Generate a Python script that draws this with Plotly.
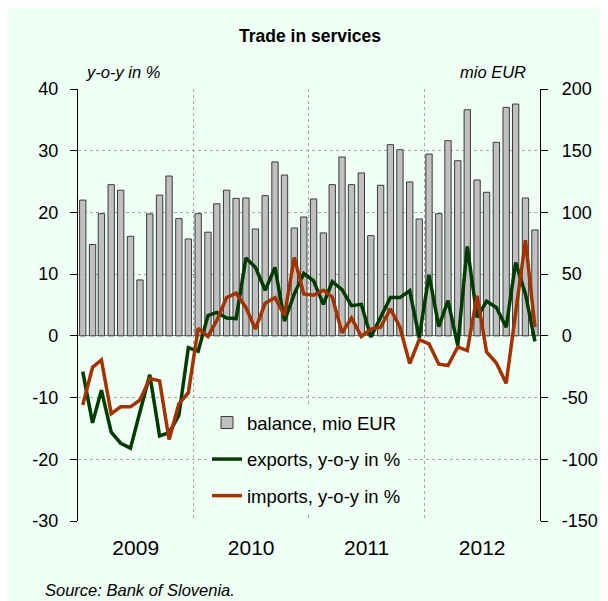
import plotly.graph_objects as go

years = [2009, 2010, 2011, 2012]
months = [f"{y}-{m:02d}-16" for y in years for m in range(1, 13)]

balance = [110, 74, 99, 122.5, 118, 80.7, 45.3, 98.8, 114, 129.5, 95, 78.5,
           99, 84, 107, 118, 111.4, 111.7, 86.6, 113.6, 140.9, 130.3, 87.4, 96.3,
           110.9, 83.4, 122.5, 144.9, 122.5, 132, 81.2, 122, 154.9, 150.8, 124.7, 94.7,
           147.3, 99, 158.1, 141.9, 183.2, 126.3, 116.3, 156.8, 185.1, 187.8, 111.7, 85.8]

exports = [-5.8, -14.1, -8.8, -15.6, -17.4, -18.2, -12.3, -6.3, -16.2, -15.7, -12.9, -1.9,
           -2.5, 3.3, 3.8, 2.9, 2.8, 12.6, 11.1, 7.4, 11.1, 2.4, 6.8, 10.1,
           8.9, 5.1, 8.8, 7.5, 4.9, 5.1, -0.2, 3.0, 6.2, 6.2, 7.3, -0.3,
           9.9, 1.5, 5.7, -1.6, 14.5, 3.0, 5.6, 4.6, 1.4, 11.9, 6.8, -0.9]

imports = [-11.2, -5.1, -3.9, -12.6, -11.5, -11.5, -10.4, -6.9, -7.3, -16.8, -11.0, -9.2,
           1.2, -0.1, 2.5, 6.2, 6.9, 4.6, 1.1, 5.3, 6.2, 3.3, 12.7, 6.8,
           6.6, 7.4, 6.3, 0.5, 2.9, -0.1, 1.1, 1.4, 4.4, 1.4, -4.5, -0.6,
           -1.3, -4.6, -4.8, -1.8, -2.4, 6.5, -2.6, -4.4, -7.7, 4.1, 15.5, 1.4]

left_ticks = [-30, -20, -10, 0, 10, 20, 30, 40]
left_labels = ["-30", "-20", "-10", "0", "10", "20", "30", "40"]
right_ticks = [-150, -100, -50, 0, 50, 100, 150, 200]
right_labels = ["-150", "-100", "-50", "0", "50", "100", "150", "200"]

MINT = "#effff5"
FONT = "Liberation Sans, Arial, sans-serif"
GRID = "#a8a8a8"

fig = go.Figure()
fig.add_trace(go.Bar(
    x=months, y=balance, name="balance, mio EUR", yaxis="y",
    width=20 * 86400000,
    marker=dict(color="#c0c0c0", line=dict(color="#3a3a3a", width=1)),
    legendgroup="a"))
fig.add_trace(go.Scatter(
    x=months, y=exports, name="exports, y-o-y in %", yaxis="y2", mode="lines",
    line=dict(color="#003c00", width=3.5), legendgroup="b"))
fig.add_trace(go.Scatter(
    x=months, y=imports, name="imports, y-o-y in %", yaxis="y2", mode="lines",
    line=dict(color="#a33300", width=3.5), legendgroup="c"))

OFF = 8  # page body margin
W, H = 600, 593
L, R, T, B = 70, 68, 81, 80
pw, ph = W - L - R, H - T - B

def px(x):
    return (x - OFF - L) / pw

def py(y):
    return (H - B - (y - OFF)) / ph

fig.update_layout(
    width=W, height=H,
    margin=dict(l=L, r=R, t=T, b=B, autoexpand=False),
    paper_bgcolor=MINT, plot_bgcolor=MINT,
    font=dict(family=FONT, color="black", size=18),
    title=dict(text="<b>Trade in services</b>", x=(310 - OFF) / W, xref="container",
               xanchor="center", y=1 - (36 - OFF) / H, yanchor="middle",
               font=dict(size=17.5, family=FONT, color="black")),
    showlegend=True,
    legend=dict(x=px(207), y=py(404), xanchor="left", yanchor="top",
                bgcolor=MINT, font=dict(size=18.5, family=FONT),
                traceorder="grouped", tracegroupgap=9.5),
    xaxis=dict(type="date", range=["2009-01-01", "2013-01-01"],
               tick0="2009-01-01", dtick="M12", tickformat="%Y",
               ticklabelmode="period", showgrid=True, gridcolor=GRID,
               griddash="dot", gridwidth=1, showline=False, ticks="",
               zeroline=False, tickfont=dict(size=21), ticklabelstandoff=12,
               automargin=False),
    yaxis=dict(range=[-150, 200], tickmode="array", tickvals=right_ticks,
               ticktext=right_labels, side="right",
               showline=True, linecolor="black", linewidth=1.3,
               ticks="outside", ticklen=7, tickcolor="black",
               showgrid=True, gridcolor=GRID, griddash="dot", gridwidth=1,
               zeroline=True, zerolinecolor="#808080", zerolinewidth=1,
               tickfont=dict(size=18), ticklabelstandoff=10, automargin=False),
    yaxis2=dict(range=[-30, 40], tickmode="array", tickvals=left_ticks,
                ticktext=left_labels, side="left",
                overlaying="y", showline=True, linecolor="black", linewidth=1.3,
                ticks="outside", ticklen=7, tickcolor="black",
                showgrid=False, zeroline=False,
                tickfont=dict(size=18), ticklabelstandoff=8, automargin=False),
    annotations=[
        dict(text="<i>y-o-y in %</i>", xref="paper", yref="paper", x=px(84),
             y=py(72), xanchor="left", yanchor="middle", showarrow=False,
             font=dict(size=16.5, family=FONT)),
        dict(text="<i>mio EUR</i>", xref="paper", yref="paper", x=px(528),
             y=py(72), xanchor="right", yanchor="middle", showarrow=False,
             font=dict(size=16.5, family=FONT)),
        dict(text="<i>Source: Bank of Slovenia.</i>", xref="paper", yref="paper",
             x=px(43), y=py(590), xanchor="left", yanchor="middle",
             showarrow=False, font=dict(size=16.5, family=FONT)),
    ],
)

fig.write_html("out.html")
